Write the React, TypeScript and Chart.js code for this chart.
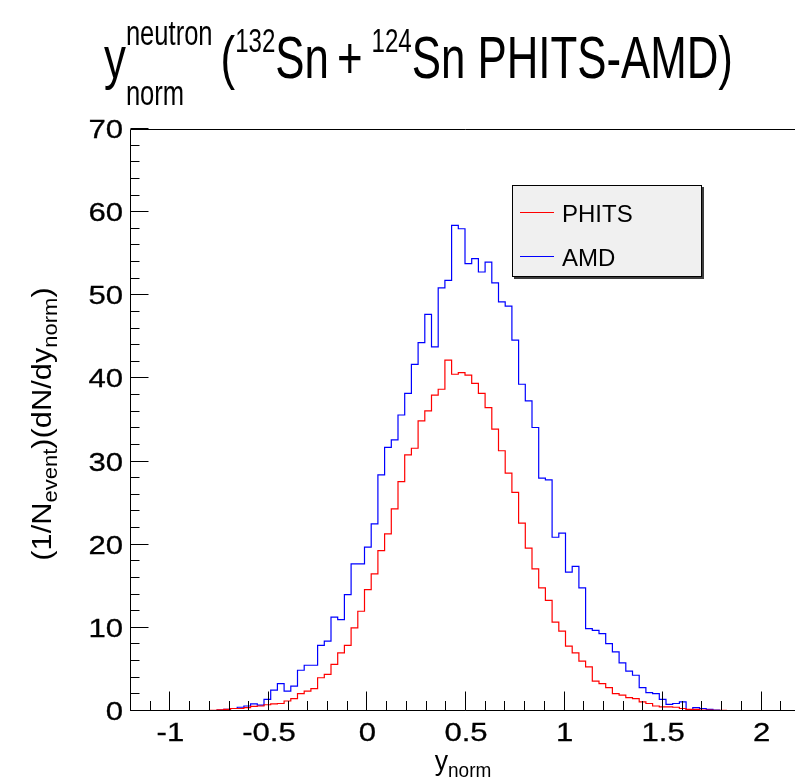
import React, { useEffect, useRef } from "react";
import { Chart, registerables } from "chart.js";

Chart.register(...registerables);

// ---- histogram binning ----
const X_MIN = -1.2;
const X_MAX = 2.2;
const N_BINS = 100;
const BIN_WIDTH = (X_MAX - X_MIN) / N_BINS;
const Y_MIN = 0;
const Y_MAX = 70;

// ---- series values (bin contents, left to right) ----
const phitsValues = [
  0, 0, 0, 0, 0, 0, 0, 0, 0.01, 0.02,
  0.04, 0.05, 0.08, 0.15, 0.2, 0.3, 0.3, 0.4, 0.55, 0.6,
  0.75, 0.85, 0.9, 1.2, 1.5, 2.1, 2.4, 2.7, 4.0, 4.4,
  5.6, 7.0, 7.9, 10.0, 12.0, 14.6, 16.5, 19.3, 21.3, 24.3,
  27.6, 30.8, 31.6, 34.9, 36.1, 38.0, 38.7, 42.2, 40.5, 40.7,
  40.4, 39.4, 38.2, 36.5, 33.9, 31.3, 28.6, 26.3, 22.6, 19.6,
  17.1, 14.8, 13.3, 10.7, 9.6, 7.8, 7.0, 6.0, 5.3, 3.6,
  3.3, 2.8, 2.1, 1.9, 1.6, 1.5, 1.1, 0.9, 0.6, 0.5,
  0.5, 0.45, 0.3, 0.2, 0.2, 0.12, 0.12, 0.07, 0.07, 0.06,
  0.05, 0.04, 0.03, 0.02, 0.02, 0.01, 0, 0, 0, 0,
];

const amdValues = [
  0, 0, 0, 0, 0, 0, 0, 0, 0, 0,
  0.02, 0.05, 0.05, 0.1, 0.2, 0.3, 0.45, 0.6, 0.85, 0.7,
  1.4, 2.5, 3.3, 2.4, 3.0, 4.9, 5.5, 5.5, 7.9, 8.4,
  11.3, 11.0, 14.0, 17.7, 17.7, 19.7, 22.5, 28.4, 31.7, 32.6,
  35.6, 38.2, 41.7, 44.3, 47.7, 43.8, 50.9, 51.8, 58.4, 58.0,
  53.8, 54.4, 52.8, 54.0, 51.5, 49.2, 48.7, 44.6, 39.3, 37.3,
  34.1, 28.0, 27.8, 20.9, 21.4, 16.7, 17.4, 14.8, 9.9, 9.7,
  9.3, 8.1, 7.1, 5.8, 4.8, 4.3, 2.8, 2.2, 2.1, 1.4,
  0.8, 0.9, 1.1, 0.1, 0.4, 0.3, 0.2, 0.1, 0.05, 0.05,
  0.03, 0.02, 0.01, 0, 0, 0, 0, 0, 0, 0,
];

const seriesLabels = ["PHITS", "AMD"];
const seriesColors = ["#ff0000", "#0000ff"];

// ---- ticks ----
const xTickValues = [-1, -0.5, 0, 0.5, 1, 1.5, 2];
const xTickLabels = ["-1", "-0.5", "0", "0.5", "1", "1.5", "2"];
const X_MINOR_STEP = 0.1;
const yTickValues = [0, 10, 20, 30, 40, 50, 60, 70];
const yTickLabels = ["0", "10", "20", "30", "40", "50", "60", "70"];
const Y_MINOR_STEP = 2;

const FONT = '"Liberation Sans", Arial, Helvetica, sans-serif';

type Seg = {
  t: string;
  size: number;
  dy: number;
  gap?: number;
  pair?: { t: string; size: number; dy: number };
};

function drawText(
  ctx: CanvasRenderingContext2D,
  s: string,
  x: number,
  y: number,
  size: number,
  sx: number,
  align: "left" | "right" | "center" = "left",
  draw = true,
  bold = 0
): number {
  ctx.save();
  ctx.font = `${size}px ${FONT}`;
  ctx.textAlign = "left";
  ctx.textBaseline = "alphabetic";
  const w = ctx.measureText(s).width * sx;
  if (draw) {
    let x0 = x;
    if (align === "right") x0 = x - w;
    else if (align === "center") x0 = x - w / 2;
    ctx.translate(x0, y);
    ctx.scale(sx, 1);
    ctx.fillStyle = "#000";
    ctx.fillText(s, 0, 0);
    if (bold > 0) {
      ctx.strokeStyle = "#000";
      ctx.lineWidth = bold;
      ctx.strokeText(s, 0, 0);
    }
  }
  ctx.restore();
  return w;
}

function richText(
  ctx: CanvasRenderingContext2D,
  segs: Seg[],
  x: number,
  y: number,
  sx: number,
  align: "left" | "center" = "left"
) {
  const measure = () => {
    let w = 0;
    for (const s of segs) {
      const a = drawText(ctx, s.t, 0, 0, s.size, sx, "left", false);
      const b = s.pair ? drawText(ctx, s.pair.t, 0, 0, s.pair.size, sx, "left", false) : 0;
      w += Math.max(a, b) + (s.gap || 0);
    }
    return w;
  };
  let cx = x;
  if (align === "center") cx = x - measure() / 2;
  for (const s of segs) {
    const a = drawText(ctx, s.t, cx, y + s.dy, s.size, sx);
    let b = 0;
    if (s.pair) b = drawText(ctx, s.pair.t, cx, y + s.pair.dy, s.pair.size, sx);
    cx += Math.max(a, b) + (s.gap || 0);
  }
}

const decorPlugin = {
  id: "rootDecor",
  afterDraw(chart: any) {
    const ctx: CanvasRenderingContext2D = chart.ctx;
    const { left, right, top, bottom } = chart.chartArea;
    const xs = chart.scales.x;
    const ys = chart.scales.y;
    const L = Math.round(left) + 0.5;
    const B = Math.round(bottom) - 0.5;
    const T = Math.round(top) + 0.5;

    ctx.save();
    ctx.strokeStyle = "#000";
    ctx.lineWidth = 1;
    // frame
    ctx.beginPath();
    ctx.moveTo(L, T);
    ctx.lineTo(right + 2, T);
    ctx.moveTo(L, T);
    ctx.lineTo(L, B);
    ctx.lineTo(right + 2, B);
    ctx.stroke();

    // x ticks
    ctx.beginPath();
    const kx0 = Math.ceil(X_MIN / X_MINOR_STEP - 1e-9);
    const kx1 = Math.floor(X_MAX / X_MINOR_STEP + 1e-9);
    for (let k = kx0; k <= kx1; k++) {
      const v = k * X_MINOR_STEP;
      const isMajor = xTickValues.some((m) => Math.abs(m - v) < 1e-6);
      const px = Math.round(xs.getPixelForValue(v)) + 0.5;
      ctx.moveTo(px, B);
      ctx.lineTo(px, B - (isMajor ? 19 : 9.5));
    }
    // y ticks
    const ky0 = Math.ceil(Y_MIN / Y_MINOR_STEP);
    const ky1 = Math.floor(Y_MAX / Y_MINOR_STEP);
    for (let k = ky0; k <= ky1; k++) {
      const v = k * Y_MINOR_STEP;
      const isMajor = yTickValues.includes(v);
      const py = Math.round(ys.getPixelForValue(v)) - 0.5;
      ctx.moveTo(L, py);
      ctx.lineTo(L + (isMajor ? 18 : 9), py);
    }
    ctx.stroke();

    // tick labels
    xTickValues.forEach((v, i) => {
      const px = xs.getPixelForValue(v);
      drawText(ctx, xTickLabels[i], px + 1, bottom + 30, 25.5, 1.22, "center", true, 0.3);
    });
    yTickValues.forEach((v, i) => {
      const py = ys.getPixelForValue(v);
      drawText(ctx, yTickLabels[i], left - 7, py + 9, 25.5, 1.22, "right", true, 0.3);
    });

    // x axis title
    richText(
      ctx,
      [
        { t: "y", size: 28, dy: 0 },
        { t: "norm", size: 20, dy: 7 },
      ],
      463,
      770,
      0.95,
      "center"
    );

    // y axis title (rotated)
    ctx.save();
    ctx.translate(51, (top + bottom) / 2 + 4);
    ctx.rotate(-Math.PI / 2);
    richText(
      ctx,
      [
        { t: "(1/N", size: 28, dy: 0 },
        { t: "event", size: 20, dy: 6 },
        { t: ")(dN/dy", size: 28, dy: 0 },
        { t: "norm", size: 20, dy: 6 },
        { t: ")", size: 28, dy: 0 },
      ],
      0,
      0,
      1.1,
      "center"
    );
    ctx.restore();

    // main title
    richText(
      ctx,
      [
        { t: "y", size: 60, dy: 0 },
        { t: "neutron", size: 35, dy: -33, pair: { t: "norm", size: 35, dy: 27 }, gap: 8 },
        { t: "(", size: 60, dy: 0 },
        { t: "132", size: 33, dy: -26 },
        { t: "Sn", size: 60, dy: 0, gap: 8 },
        { t: "+", size: 60, dy: 0, gap: 9 },
        { t: "124", size: 33, dy: -26 },
        { t: "Sn PHITS-AMD)", size: 60, dy: 0 },
      ],
      104,
      78,
      0.73,
      "left"
    );

    // legend
    const lx = 512, ly = 185, lw = 190, lh = 92;
    ctx.fillStyle = "#3c3c3c";
    ctx.fillRect(lx + 2, ly + 2, lw, lh);
    ctx.fillStyle = "#f0f0f0";
    ctx.fillRect(lx, ly, lw, lh);
    ctx.strokeStyle = "#000";
    ctx.lineWidth = 1;
    ctx.strokeRect(lx + 0.5, ly + 0.5, lw - 1, lh - 1);
    chart.data.datasets.forEach((ds: any, i: number) => {
      const yy = ly + 27.5 + i * 44;
      ctx.strokeStyle = ds.borderColor;
      ctx.lineWidth = 1.2;
      ctx.beginPath();
      ctx.moveTo(lx + 8, yy);
      ctx.lineTo(lx + 42, yy);
      ctx.stroke();
      drawText(ctx, ds.label, lx + 50, yy + 9, 24, 1.0, "left");
    });

    ctx.restore();
  },
};

function histPoints(values: number[]) {
  const pts = values.map((v, i) => ({ x: X_MIN + i * BIN_WIDTH, y: v }));
  pts.push({ x: X_MAX, y: values[values.length - 1] });
  return pts;
}

export default function App() {
  const ref = useRef<HTMLCanvasElement | null>(null);

  useEffect(() => {
    if (!ref.current) return;
    const chart = new Chart(ref.current, {
      type: "line",
      data: {
        datasets: [
          {
            label: seriesLabels[0],
            data: histPoints(phitsValues),
            borderColor: seriesColors[0],
            borderWidth: 1.2,
            pointRadius: 0,
            fill: false,
            stepped: true,
          },
          {
            label: seriesLabels[1],
            data: histPoints(amdValues),
            borderColor: seriesColors[1],
            borderWidth: 1.2,
            pointRadius: 0,
            fill: false,
            stepped: true,
          },
        ],
      },
      options: {
        animation: false,
        responsive: false,
        maintainAspectRatio: false,
        devicePixelRatio: 1,
        layout: { padding: { left: 130, top: 129, right: 0, bottom: 70 } },
        plugins: {
          legend: { display: false },
          title: { display: false },
          tooltip: { enabled: false },
        },
        scales: {
          x: { type: "linear", min: X_MIN, max: X_MAX, display: false },
          y: { type: "linear", min: Y_MIN, max: Y_MAX, display: false },
        },
      },
      plugins: [decorPlugin],
    });
    return () => chart.destroy();
  }, []);

  return (
    <div
      style={{
        position: "fixed",
        left: 0,
        top: 0,
        width: 795,
        height: 781,
        overflow: "hidden",
        background: "#fff",
      }}
    >
      <canvas ref={ref} width={800} height={781} style={{ width: 800, height: 781, display: "block" }} />
    </div>
  );
}
